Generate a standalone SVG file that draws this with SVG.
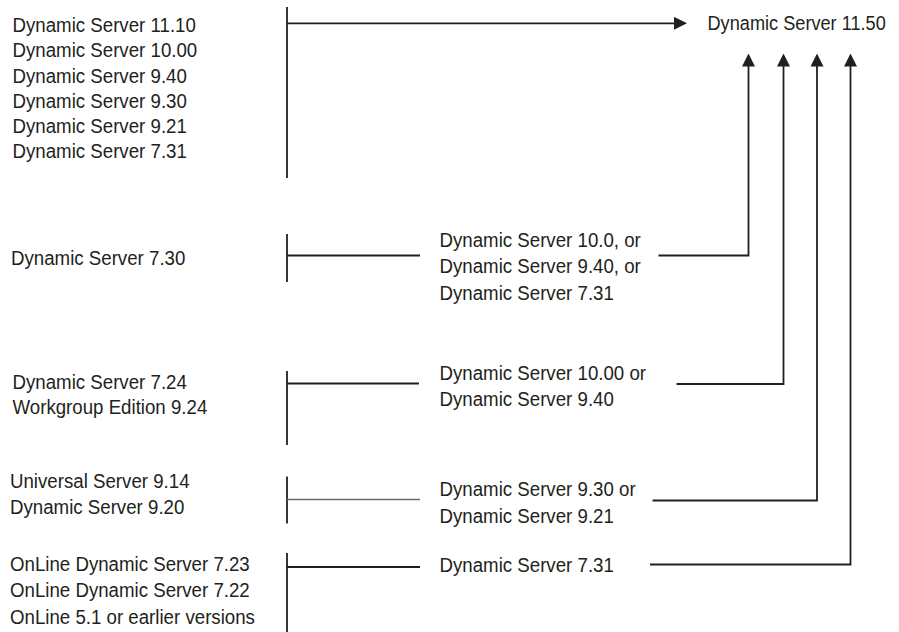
<svg xmlns="http://www.w3.org/2000/svg" width="899" height="632" viewBox="0 0 899 632">
<defs>
<style>
.t{font-family:"Liberation Sans",Arial,sans-serif;font-size:21px;fill:#231f20;}
.c{fill:none;stroke:#231f20;stroke-width:1.8;}
.g{fill:none;stroke:#6d6d6d;stroke-width:1.3;}
</style>
<marker id="ah" viewBox="0 0 13 13" refX="10" refY="6.5" markerWidth="13" markerHeight="13" markerUnits="userSpaceOnUse" orient="auto">
<path d="M0,0 L13,6.5 L0,13 Z" fill="#231f20"/>
</marker>
</defs>
<rect width="899" height="632" fill="#ffffff"/>

<g id="src-top" transform="translate(12.5,0) scale(0.89,1)">
<text class="t" x="0" y="32.3">Dynamic Server 11.10</text>
<text class="t" x="0" y="57.5">Dynamic Server 10.00</text>
<text class="t" x="0" y="82.7">Dynamic Server 9.40</text>
<text class="t" x="0" y="108.5">Dynamic Server 9.30</text>
<text class="t" x="0" y="133.5">Dynamic Server 9.21</text>
<text class="t" x="0" y="158.3">Dynamic Server 7.31</text>
</g>

<g id="target" transform="translate(707.5,0) scale(0.865,1)">
<text class="t" x="0" y="30">Dynamic Server 11.50</text>
</g>

<g id="src-730" transform="translate(11,0) scale(0.89,1)">
<text class="t" x="0" y="265">Dynamic Server 7.30</text>
</g>

<g id="mid-1" transform="translate(439.5,0) scale(0.89,1)">
<text class="t" x="0" y="247.5">Dynamic Server 10.0, or</text>
<text class="t" x="0" y="273.5">Dynamic Server 9.40, or</text>
<text class="t" x="0" y="300">Dynamic Server 7.31</text>
</g>

<g id="src-724" transform="translate(12.5,0) scale(0.89,1)">
<text class="t" x="0" y="389">Dynamic Server 7.24</text>
<text class="t" x="0" y="414.5">Workgroup Edition 9.24</text>
</g>

<g id="mid-2" transform="translate(439.5,0) scale(0.89,1)">
<text class="t" x="0" y="380.5">Dynamic Server 10.00 or</text>
<text class="t" x="0" y="406.5">Dynamic Server 9.40</text>
</g>

<g id="src-914" transform="translate(10,0) scale(0.89,1)">
<text class="t" x="0" y="488">Universal Server 9.14</text>
<text class="t" x="0" y="514.5">Dynamic Server 9.20</text>
</g>

<g id="mid-3" transform="translate(439.5,0) scale(0.89,1)">
<text class="t" x="0" y="496.5">Dynamic Server 9.30 or</text>
<text class="t" x="0" y="523">Dynamic Server 9.21</text>
</g>

<g id="src-online" transform="translate(10,0) scale(0.89,1)">
<text class="t" x="0" y="571">OnLine Dynamic Server 7.23</text>
<text class="t" x="0" y="597.5">OnLine Dynamic Server 7.22</text>
<text class="t" x="0" y="624">OnLine 5.1 or earlier versions</text>
</g>

<g id="mid-4" transform="translate(439.5,0) scale(0.89,1)">
<text class="t" x="0" y="572.5">Dynamic Server 7.31</text>
</g>

<g id="connectors">
<path class="c" d="M287,7 V178"/>
<path class="c" d="M287,23.3 H684" marker-end="url(#ah)"/>
<path class="c" d="M287,234 V282 M287,255.5 H420"/>
<path class="c" d="M287,371 V445 M287,383.5 H419"/>
<path class="c" d="M287,476.5 V523.5"/>
<path class="g" d="M287,499.5 H420"/>
<path class="c" d="M287,553 V632 M287,567 H420"/>
<path class="c" d="M658.5,255.5 H748.5 V56.5" marker-end="url(#ah)"/>
<path class="c" d="M676.5,384 H783.5 V56.5" marker-end="url(#ah)"/>
<path class="c" d="M652.5,500.5 H817 V56.5" marker-end="url(#ah)"/>
<path class="c" d="M650,564.5 H850.5 V56.5" marker-end="url(#ah)"/>
</g>
</svg>
